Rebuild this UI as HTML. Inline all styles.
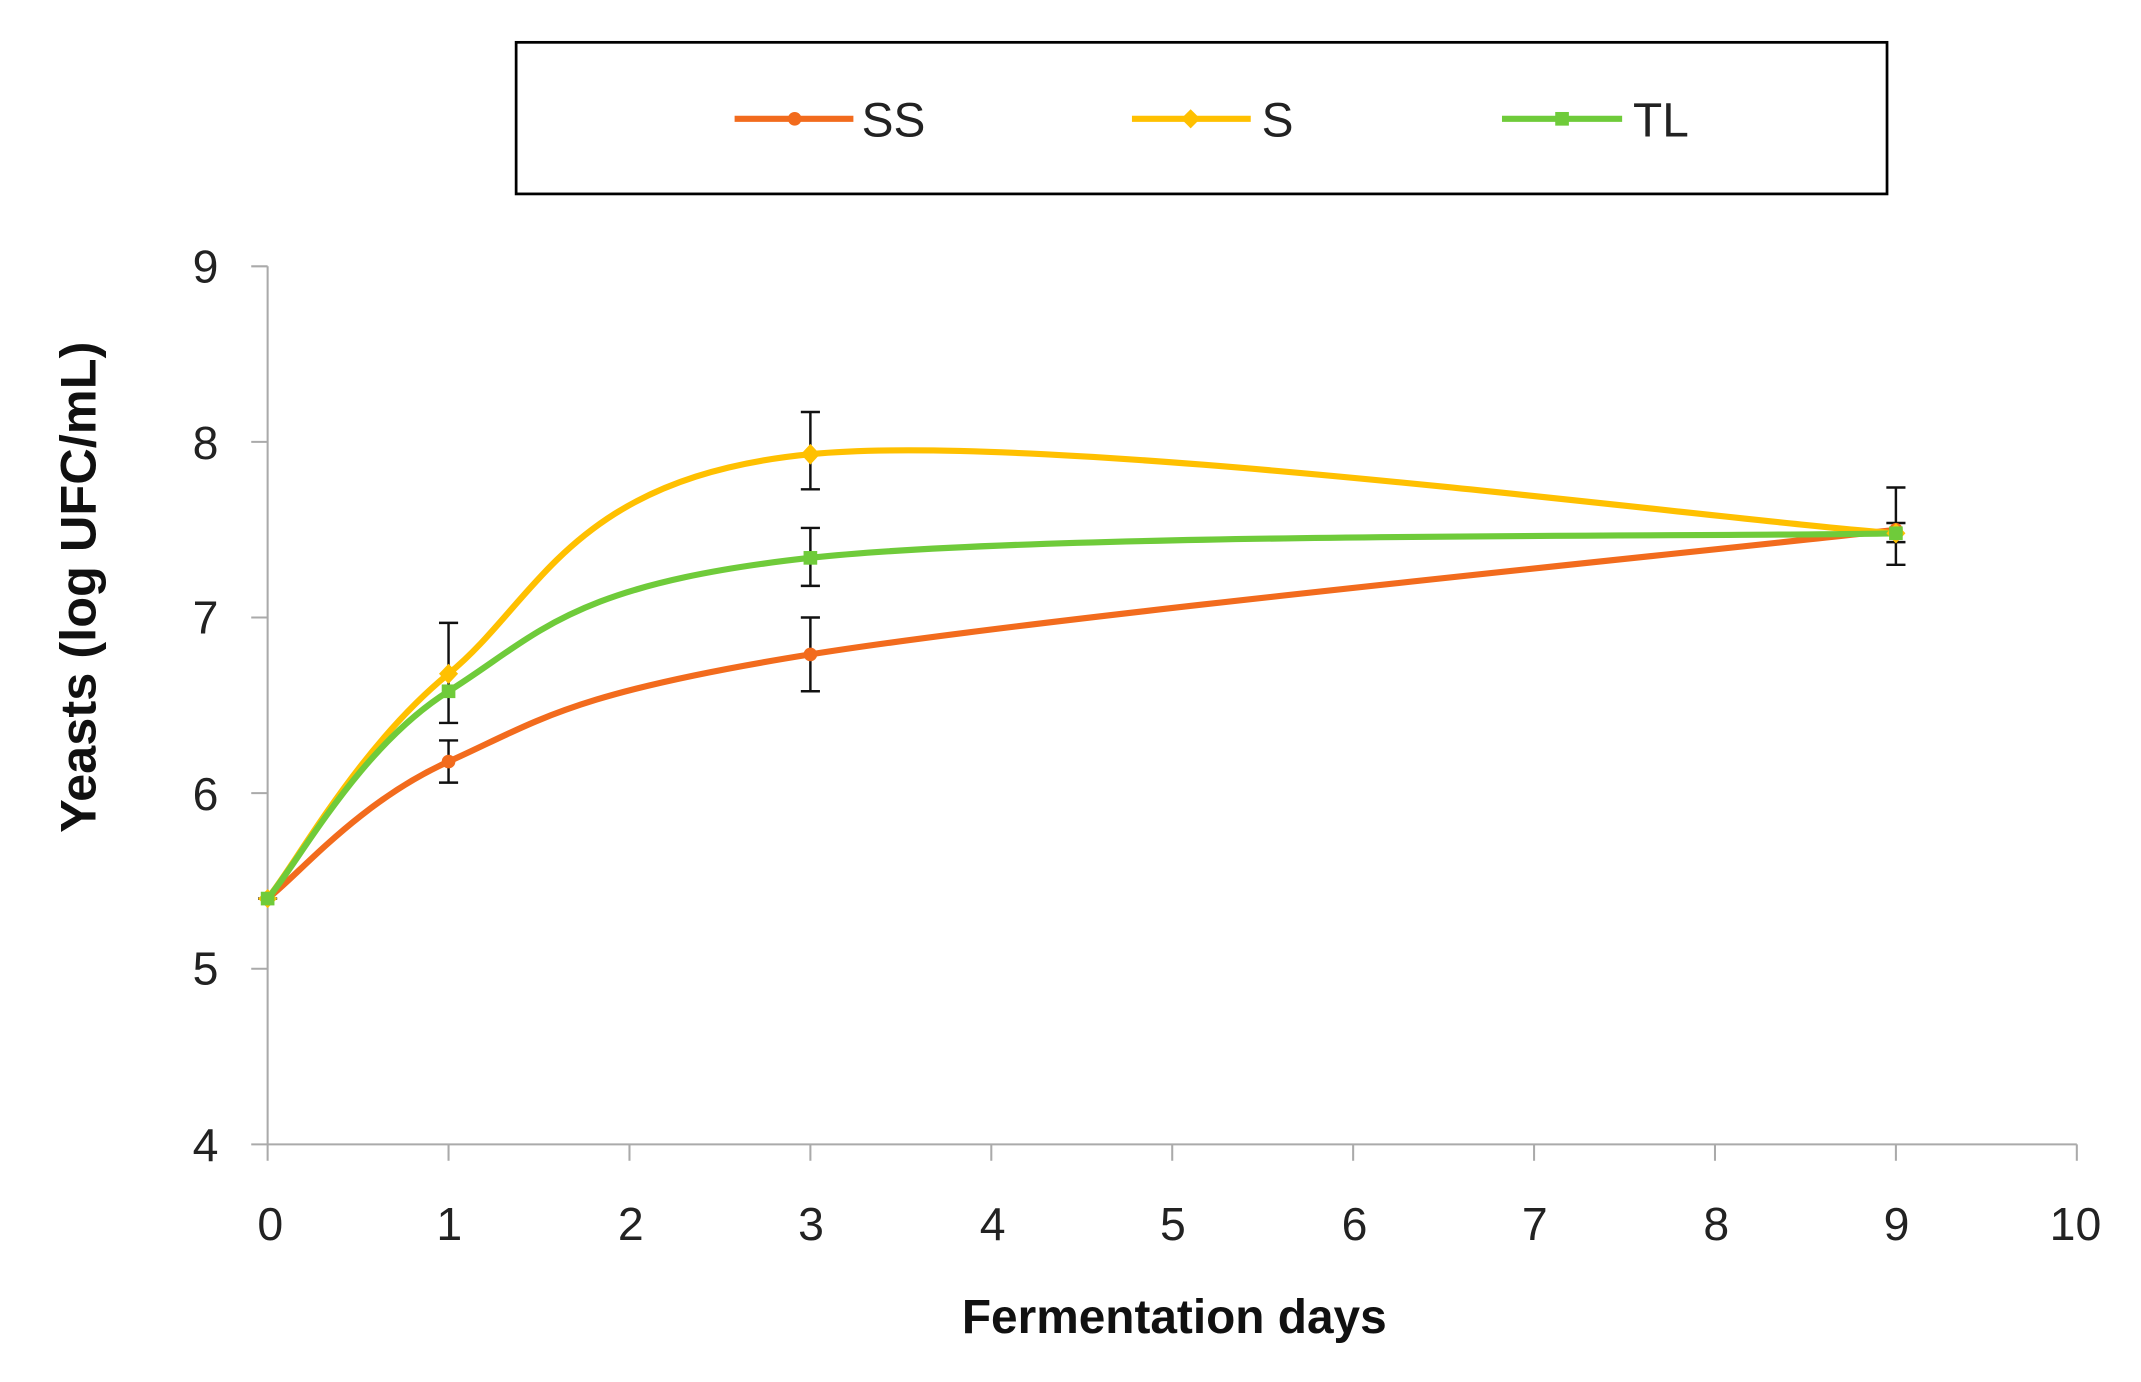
<!DOCTYPE html>
<html><head><style>html,body{margin:0;padding:0;background:#fff}svg{display:block}</style></head>
<body>
<svg width="2141" height="1382" viewBox="0 0 1568 1012" preserveAspectRatio="none" xmlns="http://www.w3.org/2000/svg" font-family="Liberation Sans, sans-serif">
<rect width="1568" height="1012" fill="#fff"/>
<rect x="378" y="31" width="1004" height="111" fill="#fff" stroke="#000" stroke-width="2"/>
<g stroke-width="4.5">
<line x1="538" y1="87" x2="625" y2="87" stroke="#f26b1d"/><circle cx="582" cy="87" r="5" fill="#f26b1d"/>
<line x1="829" y1="87" x2="916" y2="87" stroke="#ffc000"/><path d="M872 80 L879 87 L872 94 L865 87Z" fill="#ffc000"/>
<line x1="1100" y1="87" x2="1188" y2="87" stroke="#6fcb3a"/><rect x="1139" y="82" width="10" height="10" fill="#6fcb3a"/>
</g>
<g font-size="35" fill="#222">
<text x="631" y="100">SS</text><text x="924" y="100">S</text><text x="1196" y="100">TL</text>
</g>
<g stroke="#aaa" stroke-width="1.5">
<line x1="196" y1="195" x2="196" y2="838"/><line x1="196" y1="838" x2="1521" y2="838"/>
<line x1="184" y1="195" x2="196" y2="195"/><line x1="184" y1="323.6" x2="196" y2="323.6"/><line x1="184" y1="452.2" x2="196" y2="452.2"/><line x1="184" y1="580.8" x2="196" y2="580.8"/><line x1="184" y1="709.4" x2="196" y2="709.4"/><line x1="184" y1="838" x2="196" y2="838"/>
<line x1="196" y1="838" x2="196" y2="850"/><line x1="328.5" y1="838" x2="328.5" y2="850"/><line x1="461" y1="838" x2="461" y2="850"/><line x1="593.5" y1="838" x2="593.5" y2="850"/><line x1="726" y1="838" x2="726" y2="850"/><line x1="858.5" y1="838" x2="858.5" y2="850"/><line x1="991" y1="838" x2="991" y2="850"/><line x1="1123.5" y1="838" x2="1123.5" y2="850"/><line x1="1256" y1="838" x2="1256" y2="850"/><line x1="1388.5" y1="838" x2="1388.5" y2="850"/><line x1="1521" y1="838" x2="1521" y2="850"/>
</g>
<g font-size="34" fill="#222" text-anchor="end">
<text x="160" y="207">9</text><text x="160" y="336">8</text><text x="160" y="464">7</text><text x="160" y="593">6</text><text x="160" y="721">5</text><text x="160" y="850">4</text>
</g>
<g font-size="34" fill="#222" text-anchor="middle">
<text x="198" y="908">0</text><text x="329" y="908">1</text><text x="462" y="908">2</text><text x="594" y="908">3</text><text x="727" y="908">4</text><text x="859" y="908">5</text><text x="992" y="908">6</text><text x="1124" y="908">7</text><text x="1257" y="908">8</text><text x="1389" y="908">9</text><text x="1520" y="908">10</text>
</g>
<text x="860" y="976" font-size="35" font-weight="bold" text-anchor="middle" fill="#111">Fermentation days</text>
<text transform="translate(70,430) rotate(-90)" font-size="37" font-weight="bold" text-anchor="middle" fill="#111">Yeasts (log UFC/mL)</text>
<g fill="none" stroke-width="4.5" stroke-linecap="round">
<path d="M196 658 C218.1 641.3 262.25 587.5 328.5 557.7 C394.75 527.9 416.8 507.5 593.5 479.2 C770.2 450.9 1256 403.2 1388.5 388" stroke="#f26b1d"/>
<path d="M196 658 C218.1 630.6 262.25 547.6 328.5 493.4 C394.75 439.2 416.8 349.75 593.5 332.6 C770.2 315.45 1256 380.85 1388.5 390.5" stroke="#ffc000"/>
<path d="M196 658 C218.1 632.7 262.25 547.8 328.5 506.2 C394.75 464.6 416.8 427.8 593.5 408.5 C770.2 389.2 1256 393.5 1388.5 390.5" stroke="#6fcb3a"/>
</g>
<g stroke="#111" stroke-width="1.8" fill="none">
<path d="M328.5 529.4V456.1M321.5 529.4h14M321.5 456.1h14"/>
<path d="M328.5 573.1V542.2M321.5 573.1h14M321.5 542.2h14"/>
<path d="M593.5 358.3V301.7M586.5 358.3h14M586.5 301.7h14"/>
<path d="M593.5 429V386.6M586.5 429h14M586.5 386.6h14"/>
<path d="M593.5 506.2V452.2M586.5 506.2h14M586.5 452.2h14"/>
<path d="M1388.5 413.6V357M1381.5 413.6h14M1381.5 357h14"/>
<path d="M1381.5 397h14M1381.5 383h14"/>
<path d="M189 658h14"/>
</g>
<g>
<circle cx="196" cy="658" r="5" fill="#f26b1d"/><circle cx="328.5" cy="557.7" r="5" fill="#f26b1d"/><circle cx="593.5" cy="479.2" r="5" fill="#f26b1d"/><circle cx="1388.5" cy="388" r="5" fill="#f26b1d"/>
<path d="M328.5 486l7 7.4-7 7.4-7-7.4Z M593.5 325l7 7.6-7 7.6-7-7.6Z M1388.5 383l7 7.5-7 7.5-7-7.5Z M196 651l7 7-7 7-7-7Z" fill="#ffc000"/>
<rect x="191" y="653" width="10" height="10" fill="#6fcb3a"/><rect x="323.5" y="501.2" width="10" height="10" fill="#6fcb3a"/><rect x="588.5" y="403.5" width="10" height="10" fill="#6fcb3a"/><rect x="1383.5" y="385.5" width="10" height="10" fill="#6fcb3a"/>
</g>
</svg>
</body></html>
